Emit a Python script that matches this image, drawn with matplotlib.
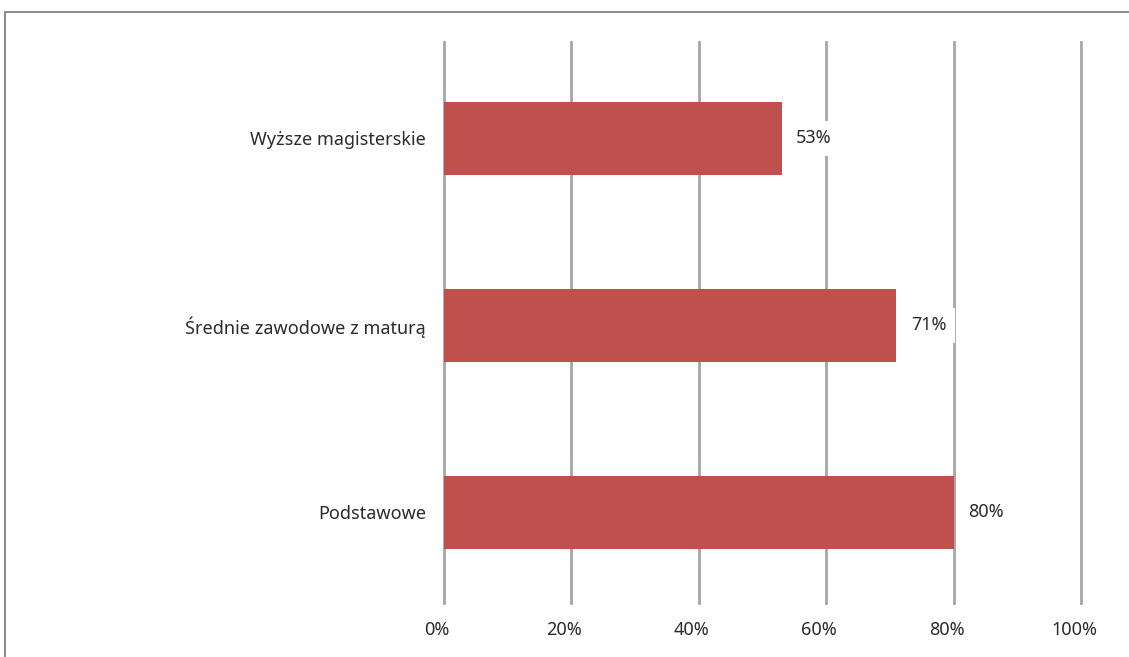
import matplotlib.pyplot as plt
import matplotlib.transforms as mtransforms
from matplotlib.patches import Rectangle

plt.rcParams['font.family'] = ['Noto Sans', 'DejaVu Sans']

# dane
kategorie = ["Podstawowe", "Średnie zawodowe z maturą", "Wyższe magisterskie"]
wartosci = [80, 71, 53]
etykiety = ["80%", "71%", "53%"]
ticki = [0, 20, 40, 60, 80, 100]

fig = plt.figure(figsize=(11.29, 6.57), dpi=100)
ax = fig.add_axes([444 / 1129, 1 - 603 / 657, 637 / 1129, 561 / 657])

# ramka wokol wykresu
fig.patches.append(Rectangle((5 / 1129, -0.1), 1.2, 1 - 12 / 657 + 0.1,
                             transform=fig.transFigure, fill=False,
                             edgecolor="#8c8c8c", linewidth=1.5, zorder=0))

y = range(len(kategorie))
ax.barh(y, wartosci, height=0.395, color="#C0504D", zorder=2)

for i, (v, t) in enumerate(zip(wartosci, etykiety)):
    ax.text(v + 2.3, i, t, va="center", ha="left", fontsize=13, color="#2b2b2b",
            zorder=3, bbox=dict(facecolor="white", edgecolor="none", pad=6))

ax.set_xlim(0, 100)
ax.set_ylim(-0.484, 2.516)
ax.set_xticks(ticki)
ax.set_xticklabels([f"{t}%" for t in ticki])
ax.set_yticks(list(y))
ax.set_yticklabels(kategorie)
ax.grid(axis="x", color="#a6a6a6", linewidth=2, zorder=1)
for gl in ax.get_xgridlines():
    gl.set_clip_on(False)
ax.set_axisbelow(True)
for s in ax.spines.values():
    s.set_visible(False)
ax.tick_params(axis="x", length=0, pad=13, labelsize=13, labelcolor="#2b2b2b")
ax.tick_params(axis="y", length=0, pad=13, labelsize=13, labelcolor="#2b2b2b")

# etykiety osi x lekko przesuniete w lewo, jak w oryginale
przesun = mtransforms.ScaledTranslation(-7 / 100, 0, fig.dpi_scale_trans)
for lab in ax.get_xticklabels():
    lab.set_transform(lab.get_transform() + przesun)

fig.savefig("out.png", dpi=100)
